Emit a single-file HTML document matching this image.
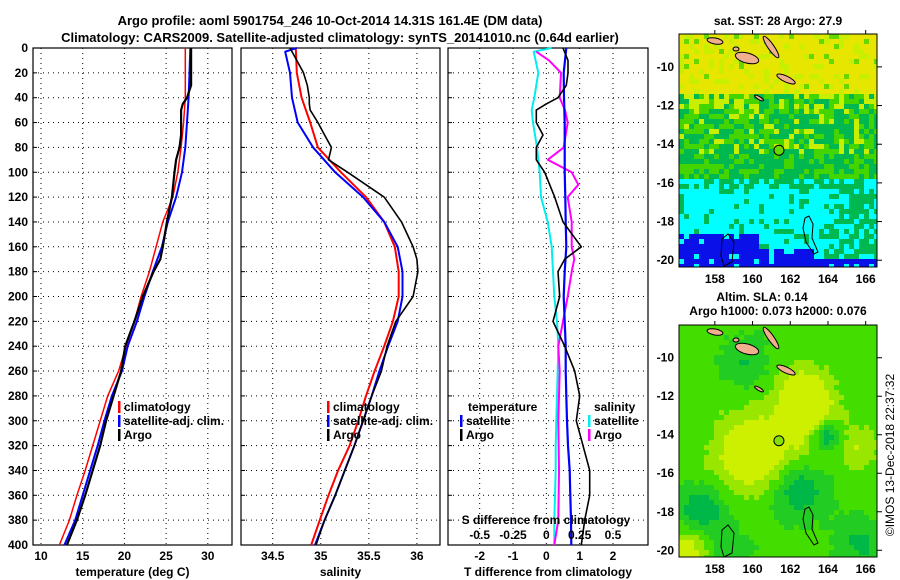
<!DOCTYPE html>
<html><head><meta charset="utf-8">
<style>
html,body{margin:0;padding:0;background:#fff;}
svg{display:block;font-family:"Liberation Sans",sans-serif;font-weight:bold;}
</style></head>
<body>
<svg id="fig" width="900" height="580" viewBox="0 0 900 580" xmlns="http://www.w3.org/2000/svg">
<rect width="900" height="580" fill="#fff"/>
<text x="330" y="25" font-size="13" text-anchor="middle">Argo profile: aoml 5901754_246 10-Oct-2014 14.31S 161.4E (DM data)</text>
<text x="340" y="42" font-size="13" text-anchor="middle">Climatology: CARS2009. Satellite-adjusted climatology: synTS_20141010.nc (0.64d earlier)</text>
<text x="778" y="25" font-size="12" text-anchor="middle">sat. SST: 28 Argo: 27.9</text>
<text x="762" y="301" font-size="12" text-anchor="middle">Altim. SLA: 0.14</text>
<text x="778" y="315" font-size="12" text-anchor="middle">Argo h1000: 0.073 h2000: 0.076</text>
<text transform="translate(894,455) rotate(-90)" font-size="12" font-weight="normal" text-anchor="middle">©IMOS 13-Dec-2018 22:37:32</text>
<g id="plots"></g>
<g id="maps"></g>
</svg>
<script>
// ---------- data ----------
const depthStd = [0,20,40,60,80,100,120,140,160,180,200,220,240,260,280,300,320,340,360,380,400];
const argoDepth = [0,10,20,30,40,45,50,60,70,80,90,100,120,140,160,170,180,200,220,240,260,280,300,320,340,360,380,400];
const tempClim = [27.3,27.3,27.3,27.1,26.8,26.4,25.8,24.6,23.8,23.0,22.0,21.2,20.2,19.3,18.0,17.1,16.2,15.3,14.3,13.4,12.2];
const tempSat = [27.9,27.8,27.7,27.5,27.3,26.9,26.2,25.2,24.5,23.4,22.4,21.5,20.4,19.7,18.5,17.6,16.8,15.9,15.0,14.1,12.8];
const tempArgo = [28.0,28.0,28.0,28.0,27.5,27.0,26.8,26.8,26.8,26.6,26.2,26.0,25.7,25.1,24.6,24.3,23.5,22.2,21.2,20.1,19.6,18.7,17.8,17.1,16.2,15.3,14.3,13.1];
const salClim = [34.74,34.75,34.80,34.89,34.97,35.21,35.47,35.66,35.77,35.81,35.81,35.75,35.66,35.56,35.47,35.39,35.30,35.18,35.08,34.99,34.90];
const salSatDepth = [0,3,20,40,60,80,100,120,140,160,180,200,220,240,260,280,300,320,340,360,380,400];
const salSat = [34.75,34.63,34.68,34.70,34.76,34.92,35.15,35.44,35.66,35.80,35.85,35.85,35.80,35.70,35.61,35.53,35.44,35.35,35.25,35.15,35.04,34.94];
const salArgo = [34.68,34.75,34.82,34.86,34.88,34.88,34.89,34.97,35.04,35.11,35.08,35.28,35.66,35.84,35.96,36.0,36.01,35.96,35.78,35.69,35.63,35.53,35.44,35.35,35.25,35.15,35.04,34.95];
const tDiffSat = [0.6,0.52,0.53,0.55,0.55,0.55,0.57,0.58,0.6,0.55,0.52,0.55,0.58,0.58,0.6,0.62,0.65,0.7,0.72,0.74,0.75];
const tDiffArgo = [0.5,0.65,0.65,0.6,0.35,0.0,-0.3,-0.3,-0.1,-0.3,-0.3,-0.05,0.25,0.5,1.05,0.55,0.35,0.4,0.2,0.55,0.85,1.0,0.9,1.1,1.3,1.3,1.15,1.05];
const sSatDepth = [0,3,20,40,50,60,80,100,120,140,160,180,200,220,240,260,280,300,320,340,360,380,400];
const sDiffSat = [0.04,-0.095,-0.06,-0.09,-0.11,-0.10,-0.07,-0.05,-0.04,0.01,0.04,0.05,0.06,0.08,0.09,0.085,0.08,0.075,0.07,0.07,0.065,0.06,0.06];
const sArgoDepth = [3,10,20,40,50,60,80,90,100,110,120,140,160,170,180,200,220,240,260,300,340,380,400];
const sDiffArgo = [-0.075,0.02,0.11,0.10,0.14,0.16,0.13,0.01,0.19,0.24,0.16,0.19,0.19,0.21,0.19,0.16,0.125,0.09,0.1,0.09,0.095,0.09,0.06];
const depthTicks = [0,20,40,60,80,100,120,140,160,180,200,220,240,260,280,300,320,340,360,380,400];
const tempTicks = [10,15,20,25,30];
const salTicks = [34.5,35,35.5,36];
const tDiffTicks = [-2,-1,0,1,2];
const sDiffTicks = [-0.5,-0.25,0,0.25,0.5];
const sDiffTickLabels = ['-0.5','-0.25','0','0.25','0.5'];

const NS='http://www.w3.org/2000/svg';
function mk(tag, attrs, parent){const e=document.createElementNS(NS,tag);for(const k in attrs)e.setAttribute(k,attrs[k]);parent.appendChild(e);return e;}
const plots=document.getElementById('plots');
const TOP=48, BOT=545;
function yS(d){return TOP+(d/400)*(BOT-TOP);}
function linScale(d0,d1,p0,p1){return v=>p0+(v-d0)/(d1-d0)*(p1-p0);}

const panels=[
 {name:'temperature',x0:33,x1:232,dmin:9.04,dmax:32.9,ticks:tempTicks,label:'temperature (deg C)',ylabels:true},
 {name:'salinity',x0:241,x1:440,dmin:34.17,dmax:36.24,ticks:salTicks,label:'salinity',ylabels:false},
 {name:'difference',x0:448,x1:648,dmin:-2.95,dmax:3.05,ticks:tDiffTicks,label:'T difference from climatology',ylabels:false}
];
panels.forEach(p=>{
  p.sx=linScale(p.dmin,p.dmax,p.x0,p.x1);
  const g=mk('g',{},plots);
  
  
  depthTicks.forEach(d=>{
    const l=mk('line',{x1:p.x0,x2:p.x1,y1:yS(d),y2:yS(d),stroke:'#000','stroke-width':1,'stroke-dasharray':'1,4'},g);
    
    
    const t=mk('line',{x1:p.x0,x2:p.x0+4,y1:yS(d),y2:yS(d),stroke:'#000'},g);
    
    
    if(p.ylabels){
      const tx=mk('text',{x:28,y:yS(d)+4,'font-size':12,'text-anchor':'end'},g);
      tx.textContent=d;
      
      
    }
  });
  p.ticks.forEach(v=>{
    const x=p.sx(v);
    const l=mk('line',{x1:x,x2:x,y1:TOP,y2:BOT,stroke:'#000','stroke-width':1,'stroke-dasharray':'1,4'},g);
    
    
    const tx=mk('text',{x:x,y:560,'font-size':12,'text-anchor':'middle'},g);
    tx.textContent=v;
    
    
  });
  const fr=mk('rect',{x:p.x0,y:TOP,width:p.x1-p.x0,height:BOT-TOP,fill:'none',stroke:'#000','stroke-width':1.2},g);
  
  
  const xl=mk('text',{x:(p.x0+p.x1)/2,y:576,'font-size':12,'text-anchor':'middle'},g);
  xl.textContent=p.label;
  
  
  p.g=g;
});

function series(p,sx,depths,vals,color,w,name){
  const pts=vals.map((v,i)=>sx(v).toFixed(1)+','+yS(depths[i]).toFixed(1)).join(' ');
  const pl=mk('polyline',{points:pts,fill:'none',stroke:color,'stroke-width':w,'stroke-linejoin':'round'},p.g);
  
  
}
const P=panels;
series(P[0],P[0].sx,depthStd,tempClim,'#ff0000',1.5,'temp-climatology-line');
series(P[0],P[0].sx,depthStd,tempSat,'#0000ff',2,'temp-satellite-line');
series(P[0],P[0].sx,argoDepth,tempArgo,'#000',2.2,'temp-argo-line');
series(P[1],P[1].sx,depthStd,salClim,'#ff0000',2,'sal-climatology-line');
series(P[1],P[1].sx,salSatDepth,salSat,'#0000ff',2,'sal-satellite-line');
series(P[1],P[1].sx,argoDepth,salArgo,'#000',1.6,'sal-argo-line');
const sxS=linScale(-2.95/4,3.05/4,P[2].x0,P[2].x1);
series(P[2],sxS,sSatDepth,sDiffSat,'#00eeee',2,'sdiff-satellite-line');
series(P[2],sxS,sArgoDepth,sDiffArgo,'#ff00ff',2,'sdiff-argo-line');
series(P[2],P[2].sx,depthStd,tDiffSat,'#0000ff',2.2,'tdiff-satellite-line');
series(P[2],P[2].sx,argoDepth,tDiffArgo,'#000',1.6,'tdiff-argo-line');
const sg=P[2].g;
const st=mk('text',{x:546,y:524,'font-size':12,'text-anchor':'middle'},sg);
st.textContent='S difference from climatology';


sDiffTicks.forEach((v,i)=>{
  const t=mk('text',{x:sxS(v),y:539,'font-size':12,'text-anchor':'middle'},sg);
  t.textContent=sDiffTickLabels[i];
  
  
});
function legendEntry(g,x,y,color,label){
  const b=mk('rect',{x:x,y:y-10,width:2.5,height:12,fill:color},g);
  
  
  const t=mk('text',{x:x+6,y:y,'font-size':12},g);
  t.textContent=label;
  
  
}
[[P[0],118],[P[1],327]].forEach(([p,x])=>{
  legendEntry(p.g,x,411,'#ff0000','climatology');
  legendEntry(p.g,x,425,'#0000ff','satellite-adj. clim.');
  legendEntry(p.g,x,439,'#000','Argo');
});
const h1=mk('text',{x:468,y:411,'font-size':12},sg); h1.textContent='temperature';


legendEntry(sg,460,425,'#0000ff','satellite');
legendEntry(sg,460,439,'#000','Argo');
const h2=mk('text',{x:594,y:411,'font-size':12},sg); h2.textContent='salinity';


legendEntry(sg,588,425,'#00eeee','satellite');
legendEntry(sg,588,439,'#ff00ff','Argo');

// ---------- maps ----------
const maps=document.getElementById('maps');
function hash(i,j,s){let h=(i*374761393+j*668265263+s*2147483647)|0;h=(h^(h>>>13))*1274126177|0;return ((h^(h>>>16))>>>0)/4294967296;}
function drawMap(mx0,my0,mx1,my1,latTop,latBot,kind){
  const g=mk('g',{},maps);
  
  
  const lonL=156.1, lonR=166.6;
  const lx=v=>mx0+(v-lonL)/(lonR-lonL)*(mx1-mx0);
  const ly=v=>my0+(-v-latTop)/(latBot-latTop)*(my1-my0);
  const cs=5;
  for(let i=0;i*cs<mx1-mx0;i++){
    for(let j=0;j*cs<my1-my0;j++){
      const x=mx0+i*cs,y=my0+j*cs;
      const lat=latTop+(j*cs)/(my1-my0)*(latBot-latTop);
      const lon=lonL+(i*cs)/(mx1-mx0)*(lonR-lonL);
      const r=hash(i,j,kind==='sst'?1:2);
      let c;
      if(kind==='sst'){
        let lim3=lon>160.3?19.4+(lon>163?0.3:0):18.6;
        if(lat<11.4) c=r<0.75?'#e6e600':(r<0.93?'#c8ee00':'#66d800');
        else if(lat<12.3) c=r<0.35?'#c8ee00':(r<0.7?'#44d400':'#00b850');
        else if(lat<15.6) c=r<0.45?'#00b850':(r<0.8?'#44d400':(lat<14.5&&r<0.95?'#c8ee00':'#00b850'));
        else if(lat<lim3){
          let gp=(lon>161.5&&lon<164.5)?0.2:(lon>164.5?0.6:0.15);
          if(lat<16.2) gp=0.5;
          c=r<gp?'#00b850':'#00ffff';
          if(lon>163.5&&lat>18&&r<0.5) c='#00b850';
        }
        else c=r<0.1?'#00ffff':'#0a10e8';
        if(lon>164.5&&lat>16.8&&lat<19.3&&r<0.55) c='#00b850';
      } else {
        const blobs=[[160,14.8,2.2,1],[163,13,1.6,0.8],[162.5,11.5,1.4,0.7],[165.5,14.5,1.2,0.5],[156.5,19.8,1.2,0.8],
                     [163.8,13.9,0.8,-1.2],[162.3,16.8,1.4,-0.9],[157.2,17.8,1.2,-0.9],[159.5,10.2,1.2,-0.5],[165.5,19.5,1.2,-0.6],[158.5,20,1.2,-0.4]];
        let v=0.1;
        blobs.forEach(b=>{const dx=(lon-b[0])/b[2],dy=(lat-b[1])/b[2];v+=b[3]*Math.exp(-(dx*dx+dy*dy));});
        v+= (r-0.5)*0.12;
        c=v>0.65?'#ccf000':(v>0.35?'#99e600':(v>0.0?'#44dd00':(v>-0.4?'#22cc22':'#00b848')));
      }
      mk('rect',{x:x,y:y,width:Math.min(cs,mx1-x),height:Math.min(cs,my1-y),fill:c},g);
    }
  }
  const dy0=my0-34;
  // [cx, cy, rx, ry, rot]
  const isl=[[715,41,8,3,10],[747,58,12,5,15],[771,47,13,3,55],[786,79,10,3,25],[759,98,5,1.5,30],[736,49,3,2,0]];
  isl.forEach(e=>{
    const cy=e[1]+dy0;
    const el=mk('ellipse',{cx:e[0],cy:cy,rx:e[2],ry:e[3],fill:'#f0b090',stroke:'#000','stroke-width':1,transform:`rotate(${e[4]} ${e[0]} ${cy})`},g);
    
    
  });
  const c1=mk('path',{d:`M722 ${239+dy0} l6 -5 l6 8 l-2 20 l-8 4 l-3 -10 z`,fill:'none',stroke:'#000','stroke-width':1},g);
  
  
  const c2=mk('path',{d:`M805 ${218+dy0} l4 -2 l4 8 l-1 14 l6 14 l-4 2 l-8 -12 l-3 -14 z`,fill:'none',stroke:'#000','stroke-width':1},g);
  
  
  const pm=mk('circle',{cx:lx(161.4),cy:ly(-14.31),r:5,fill:kind==='sst'?'#66d800':'#88e000',stroke:'#000','stroke-width':1},g);
  
  
  const fr=mk('rect',{x:mx0,y:my0,width:mx1-mx0,height:my1-my0,fill:'none',stroke:'#000','stroke-width':1},g);
  
  
  [10,12,14,16,18,20].forEach(l=>{
    const y=ly(-l);
    mk('line',{x1:mx1,x2:mx1+5,y1:y,y2:y,stroke:'#000'},g);
    const t=mk('text',{x:mx0-5,y:y+4,'font-size':12,'text-anchor':'end'},g);
    t.textContent='-'+l;
    
    
  });
  [158,160,162,164,166].forEach(l=>{
    const x=lx(l);
    mk('line',{x1:x,x2:x,y1:my0,y2:my0-4,stroke:'#000'},g);
    const t=mk('text',{x:x,y:my1+16,'font-size':12,'text-anchor':'middle'},g);
    t.textContent=l;
    
    
  });
}
drawMap(679,34,877,267,8.3,20.35,'sst');
drawMap(679,325,877,557,8.3,20.35,'sla');
</script>
</body></html>
